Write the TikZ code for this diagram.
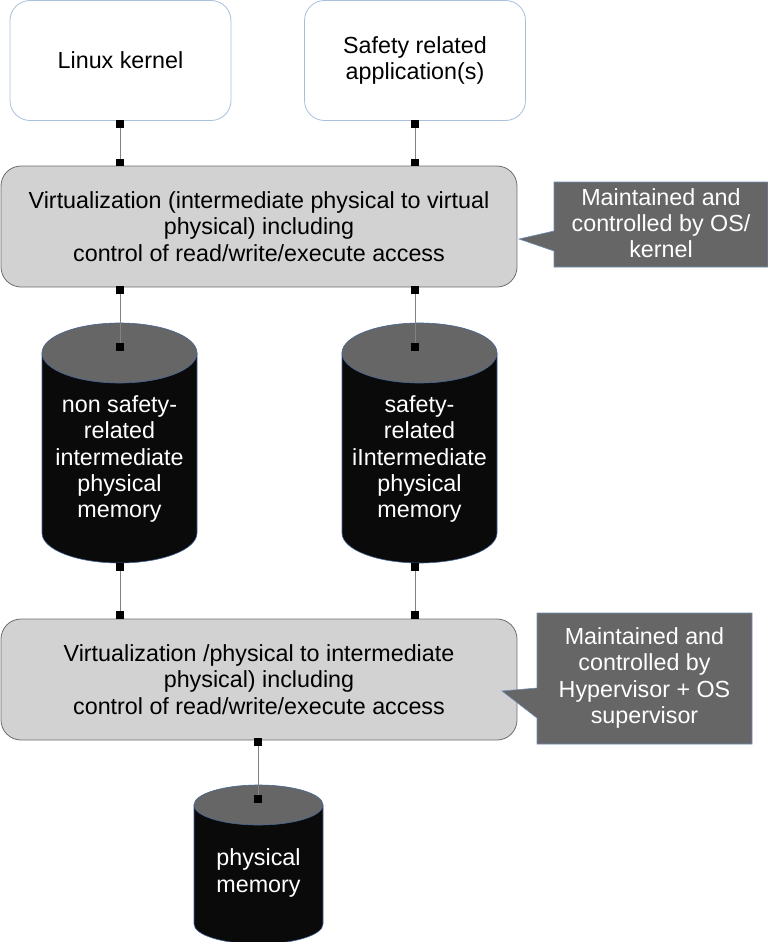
\documentclass[tikz,border=0pt]{standalone}
\usepackage{fontspec}
\setmainfont{Liberation Sans}
\definecolor{boxgray}{RGB}{210,210,210}
\definecolor{boxborder}{RGB}{110,110,110}
\definecolor{topblue}{RGB}{168,192,222}
\definecolor{conngray}{RGB}{130,130,130}
\definecolor{calloutgray}{RGB}{102,102,102}
\definecolor{calloutborder}{RGB}{114,140,180}
\definecolor{cylblack}{RGB}{10,10,10}
\definecolor{cyltop}{RGB}{102,102,102}
\definecolor{cylborder}{RGB}{70,100,150}
\newcommand\mycyl[5]{% cx, rx, ytop, ybot, ry
  \path[fill=cylblack, draw=cylborder, line width=0.6pt]
    (#1-#2,#3) -- (#1-#2,#4) arc (180:0:#2 and #5) -- (#1+#2,#3) -- cycle;
  \path[fill=cyltop, draw=cylborder, line width=0.6pt] (#1,#3) ellipse (#2 and #5);
}
\begin{document}
\begin{tikzpicture}[x=1pt,y=-1pt,
  txt/.style={font=\fontsize{23.3}{26.3}\selectfont, align=center, inner sep=0pt},
  topbox/.style={txt, draw=topblue, line width=0.8pt, fill=white, rounded corners=20pt, minimum width=221pt, minimum height=120pt, outer sep=0pt},
  virtbox/.style={txt, draw=boxborder, fill=boxgray, rounded corners=20pt, line width=0.8pt, minimum width=516pt, minimum height=121pt, outer sep=0pt},
  sq/.style={fill=black, minimum size=7pt, inner sep=0pt, draw=none, rectangle},
  conn/.style={draw=conngray, line width=0.9pt},
  callout/.style={fill=calloutgray, draw=calloutborder, line width=0.6pt},
  wtxt/.style={txt, text=white},
]
\useasboundingbox (0,0) rectangle (768,942);

% top boxes
\node[topbox] (linux) at (120.5,60.5) {Linux kernel};
\node[topbox] (safety) at (415,60.5) {Safety related\\application(s)};

% virtualization boxes
\node[virtbox] (virt1) at (259,226.5) {Virtualization (intermediate physical to virtual\\physical) including\\control of read/write/execute access};
\node[virtbox] (virt2) at (259,679.5) {Virtualization /physical to intermediate\\physical) including\\control of read/write/execute access};

% callouts
\path[callout] (554,182) -- (768,182) -- (768,267) -- (554,267) -- (554,251) -- (519,239) -- (554,231) -- cycle;
\node[wtxt] (c1) at (661,223) {Maintained and\\controlled by OS/\\kernel};
\path[callout] (537,613) -- (752,613) -- (752,744) -- (537,744) -- (537,718) -- (502,691) -- (537,688) -- cycle;
\node[wtxt] (c2) at (644.5,678) {Maintained and\\controlled by\\Hypervisor + OS\\supervisor};

% cylinders
\mycyl{119.5}{77.5}{353}{533}{30}
\mycyl{419.5}{77.5}{353}{533}{30}
\mycyl{258.5}{64.5}{805}{924}{20}
\node[wtxt] (m1) at (119.5,459) {non safety-\\related\\intermediate\\physical\\memory};
\node[wtxt] (m2) at (419.5,459) {safety-\\related\\iIntermediate\\physical\\memory};
\node[wtxt] (m3) at (258.5,873) {physical\\memory};

% connector end points
\node[sq] (a1) at (120,124) {};
\node[sq] (a2) at (120,162.5) {};
\node[sq] (b1) at (415,124) {};
\node[sq] (b2) at (415,162.5) {};
\node[sq] (c1a) at (120,290) {};
\node[sq] (c1b) at (120,347) {};
\node[sq] (d1) at (415,290) {};
\node[sq] (d2) at (415,347) {};
\node[sq] (e1) at (120,567) {};
\node[sq] (e2) at (120,615) {};
\node[sq] (f1) at (415,567) {};
\node[sq] (f2) at (415,615) {};
\node[sq] (g1) at (258,742) {};
\node[sq] (g2) at (258,799) {};

\draw[conn] (a1.center) -- (a2.center);
\draw[conn] (b1.center) -- (b2.center);
\draw[conn] (c1a.center) -- (c1b.center);
\draw[conn] (d1.center) -- (d2.center);
\draw[conn] (e1.center) -- (e2.center);
\draw[conn] (f1.center) -- (f2.center);
\draw[conn] (g1.center) -- (g2.center);
\foreach \n in {a1,a2,b1,b2,c1a,c1b,d1,d2,e1,e2,f1,f2,g1,g2}
  \fill (\n.south west) rectangle (\n.north east);
\end{tikzpicture}
\end{document}
